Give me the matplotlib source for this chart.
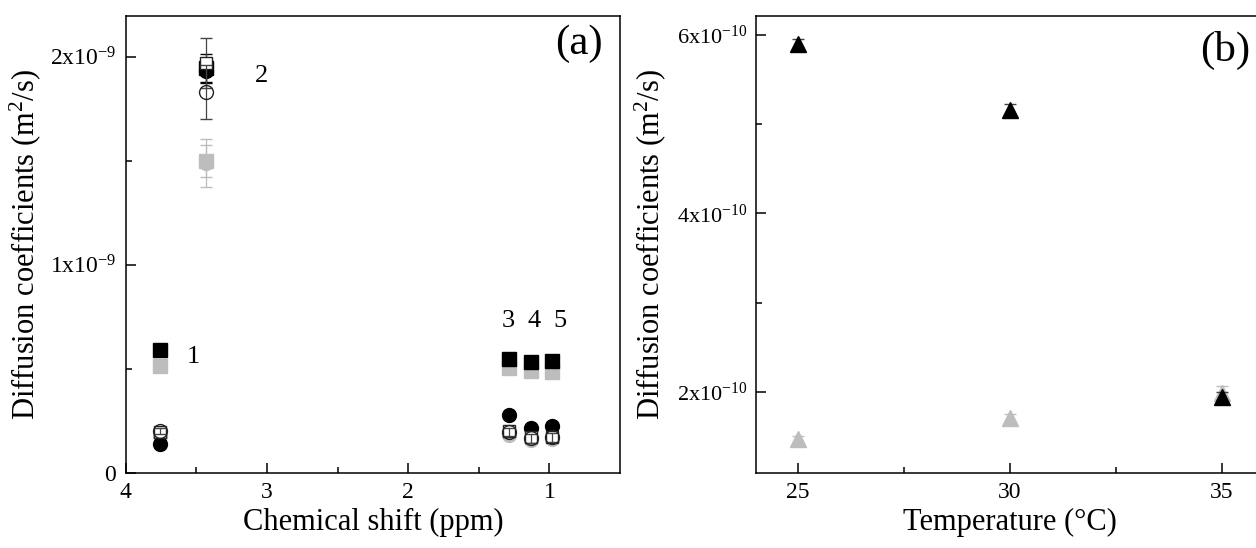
import matplotlib
matplotlib.use("Agg")
import matplotlib.pyplot as plt
from matplotlib.ticker import FixedLocator
import numpy as np

plt.rcParams['font.family'] = ['Liberation Serif', 'DejaVu Serif']
plt.rcParams['mathtext.fontset'] = 'custom'
plt.rcParams['mathtext.rm'] = 'Liberation Serif'
plt.rcParams['mathtext.it'] = 'Liberation Serif:italic'
plt.rcParams['axes.linewidth'] = 1.1

# ---- panel (a) data: diffusion coefficient vs chemical shift (units 1e-9 m2/s)
shift = [3.76, 3.43, 1.29, 1.13, 0.985]
sq_black = [0.59, 1.945, 0.548, 0.532, 0.535]
sq_black_err = [0.01, 0.07, 0.01, 0.01, 0.01]
sq_grey = [0.515, 1.50, 0.502, 0.487, 0.486]
sq_grey_err = [0.01, 0.078, 0.01, 0.01, 0.01]
sq_open = [0.198, 1.97, 0.20, 0.17, 0.172]
sq_open_err = [0.01, 0.12, 0.01, 0.015, 0.015]
ci_black = [0.138, 1.93, 0.277, 0.213, 0.226]
ci_black_err = [0.01, 0.05, 0.01, 0.01, 0.01]
ci_grey = [0.175, 1.49, 0.18, 0.155, 0.163]
ci_grey_err = [0.01, 0.116, 0.01, 0.01, 0.01]
ci_open = [0.202, 1.83, 0.197, 0.165, 0.17]
ci_open_err = [0.015, 0.13, 0.02, 0.02, 0.02]

peak_labels = ['1', '2', '3', '4', '5']
peak_label_x = [3.52, 3.04, 1.294, 1.112, 0.924]
peak_label_y = [0.556, 1.907, 0.731, 0.731, 0.731]

# ---- panel (b) data: diffusion coefficient vs temperature (units 1e-10 m2/s)
temp = [25, 30, 35]
tri_black = [5.90, 5.16, 1.94]
tri_black_err = [0.05, 0.06, 0.06]
tri_grey = [1.47, 1.715, 1.99]
tri_grey_err = [0.04, 0.04, 0.08]

GREY = '#bdbdbd'

fig = plt.figure(figsize=(12.56, 5.48), dpi=100)
ax1 = fig.add_axes([0.1001, 0.1374, 0.3936, 0.8334])
ax2 = fig.add_axes([0.6017, 0.1374, 0.4047, 0.8334])

x = np.array(shift)
def eb(ax, xs, ys, errs, scale, marker, face, edge, ecol, z, ms=10):
    ax.errorbar(xs, np.array(ys) * scale, yerr=np.array(errs) * scale,
                fmt=marker, ms=ms, mfc=face, mec=edge, mew=1.0,
                ecolor=ecol, elinewidth=0.9, capsize=4, capthick=0.9,
                zorder=z)

eb(ax1, x, sq_grey, sq_grey_err, 1e-9, 's', GREY, GREY, GREY, 2)
eb(ax1, x, ci_grey, ci_grey_err, 1e-9, 'o', GREY, GREY, GREY, 2)
eb(ax1, x, ci_black, ci_black_err, 1e-9, 'o', 'black', 'black', 'black', 3)
eb(ax1, x, sq_black, sq_black_err, 1e-9, 's', 'black', 'black', 'black', 3)
eb(ax1, x, sq_open, sq_open_err, 1e-9, 's', 'white', '#222222', '#444444', 4, ms=9)
eb(ax1, x, ci_open, ci_open_err, 1e-9, 'o', 'none', '#222222', '#444444', 5)

for lab, lx, ly in zip(peak_labels, peak_label_x, peak_label_y):
    ax1.text(lx, ly * 1e-9, lab, fontsize=19, ha='center', va='center')

ax1.set_xlim(4, 0.5)
ax1.set_ylim(0, 2.196e-9)
ax1.xaxis.set_major_locator(FixedLocator([4, 3, 2, 1]))
ax1.xaxis.set_minor_locator(FixedLocator([3.5, 2.5, 1.5]))
ax1.set_xticklabels(['4', '3', '2', '1'])
ax1.yaxis.set_major_locator(FixedLocator([0, 1e-9, 2e-9]))
ax1.yaxis.set_minor_locator(FixedLocator([0.5e-9, 1.5e-9]))
ax1.set_yticklabels(['0', r'1x10$^{-9}$', r'2x10$^{-9}$'])
ax1.set_xlabel('Chemical shift (ppm)', fontsize=22, labelpad=3)
ax1.set_ylabel(r'Diffusion coefficients (m$^2$/s)', fontsize=22)
ax1.yaxis.set_label_coords(-0.168, 0.5)
ax1.text(0.965, 0.94, '(a)', transform=ax1.transAxes, fontsize=31,
         ha='right', va='center')

eb(ax2, temp, tri_grey, tri_grey_err, 1e-10, '^', GREY, GREY, GREY, 2, ms=11)
eb(ax2, temp, tri_black, tri_black_err, 1e-10, '^', 'black', 'black', '#444444', 3, ms=11)
ax2.set_xlim(24, 36)
ax2.set_ylim(1.098e-10, 6.21e-10)
ax2.xaxis.set_minor_locator(FixedLocator([27.5, 32.5]))
ax2.yaxis.set_major_locator(FixedLocator([2e-10, 4e-10, 6e-10]))
ax2.yaxis.set_minor_locator(FixedLocator([3e-10, 5e-10]))
ax2.set_xticks([25, 30, 35])
ax2.set_xticklabels(['25', '30', '35'])
ax2.set_yticklabels([r'2x10$^{-10}$', r'4x10$^{-10}$', r'6x10$^{-10}$'])
ax2.set_xlabel('Temperature (°C)', fontsize=22, labelpad=3)
ax2.set_ylabel(r'Diffusion coefficients (m$^2$/s)', fontsize=22)
ax2.yaxis.set_label_coords(-0.172, 0.5)
# panel label placed in pixel coords (axes runs past the figure's right edge)
ax2.text(1250, 548 - 50, '(b)', transform=None, fontsize=31,
         ha='right', va='center')

for ax in (ax1, ax2):
    ax.tick_params(which='both', direction='in', top=False, right=False,
                   labelsize=17, pad=7)
    ax.tick_params(which='major', length=7, width=1.1)
    ax.tick_params(which='minor', length=4, width=1.1)
ax2.tick_params(axis='y', labelsize=16, pad=6)

fig.savefig('out.png', dpi=100)
